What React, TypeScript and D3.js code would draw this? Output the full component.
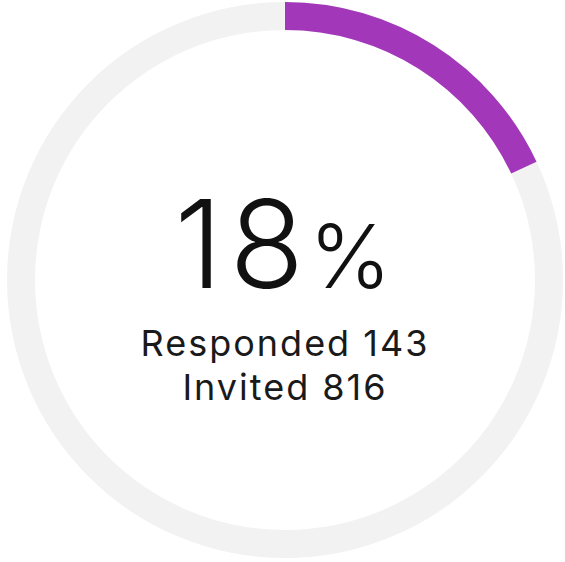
import React from "react";
import * as d3 from "d3";

// survey figures
const labels = ["Responded", "Invited"];
const counts = [143, 816];
const shownPercent = [18];

const width = 565, height = 562;
const cx = 285, cy = 280;
const outerR = 278, innerR = 250;

export default function App() {
    const pct = shownPercent[0];
    // full track and filled share, angle 0 = 12 o'clock
    const angle = d3.scaleLinear().domain([0, 100]).range([0, 2 * Math.PI]);
    const arc = d3.arc<any>().innerRadius(innerR).outerRadius(outerR);
    const track = arc({ startAngle: angle(0), endAngle: angle(100) } as any) || "";
    const filled = arc({ startAngle: angle(0), endAngle: angle(pct) } as any) || "";

    const font = "Inter, 'Noto Sans', sans-serif";

    return (
        <svg width={width} height={height} style={{ position: "absolute", left: 0, top: 0 }}>
            <g transform={"translate(" + cx + "," + cy + ")"}>
                <path d={track} fill="#f2f2f2" />
                <path d={filled} fill="#a237b9" />
                <text x={-2} y={8} textAnchor="middle" fontFamily={font} fill="#111">
                    <tspan fontSize={122} fontWeight={300} letterSpacing={7}>{pct}</tspan>
                    <tspan fontSize={88} fontWeight={300} dx={-2}>%</tspan>
                </text>
                {labels.map((l, i) => (
                    <text key={l} x={0} y={76 + i * 44} textAnchor="middle"
                        fontFamily={font} fontSize={36} fontWeight={400} fill="#1a1a1a"
                        letterSpacing={2}>
                        {l + " " + counts[i]}
                    </text>
                ))}
            </g>
        </svg>
    );
}
